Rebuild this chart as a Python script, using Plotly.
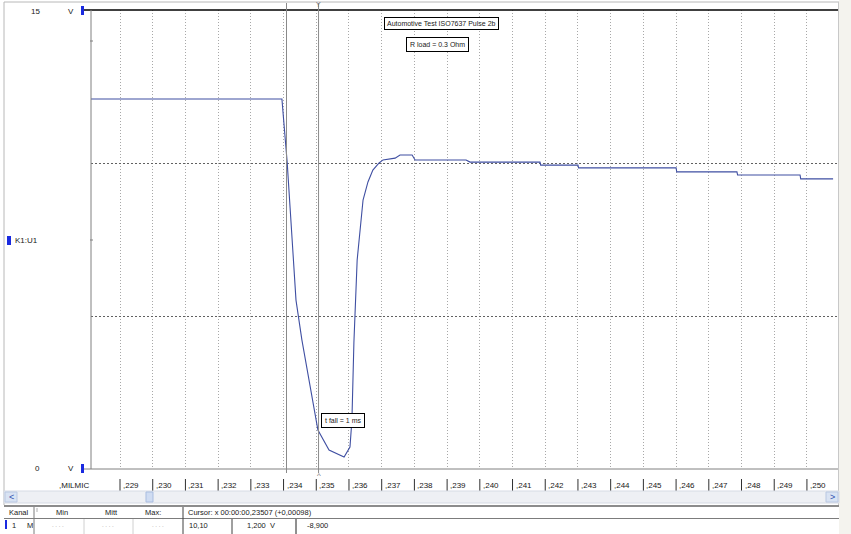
import plotly.graph_objects as go

# ---------------- data ----------------
time_s = [0.22811, 0.23395, 0.23401, 0.23411, 0.23420, 0.23429, 0.23438, 0.23456, 0.23478, 0.23505,
          0.23539, 0.23585, 0.23603, 0.23609, 0.23615, 0.23618, 0.23625, 0.23643, 0.23658, 0.23673,
          0.23692, 0.23704, 0.23741, 0.23756, 0.23793, 0.23802, 0.23958, 0.23970,
          0.24184, 0.24186, 0.24300, 0.24302, 0.24600, 0.24602, 0.24786, 0.24788, 0.24979, 0.24981, 0.25080]
volts = [12.09, 12.09, 11.31, 10.03, 8.53, 6.83, 5.52, 4.22, 2.91, 1.27,
         0.62, 0.39, 0.72, 1.60, 4.12, 4.87, 6.83, 8.79, 9.38, 9.77,
         10.00, 10.10, 10.16, 10.26, 10.26, 10.10, 10.10, 10.03,
         10.03, 9.93, 9.93, 9.84, 9.84, 9.71, 9.71, 9.61, 9.61, 9.48, 9.48]

x_tick_vals = [0.229, 0.230, 0.231, 0.232, 0.233, 0.234, 0.235, 0.236, 0.237, 0.238, 0.239,
               0.240, 0.241, 0.242, 0.243, 0.244, 0.245, 0.246, 0.247, 0.248, 0.249, 0.250]
x_tick_text = [",229", ",230", ",231", ",232", ",233", ",234", ",235", ",236", ",237", ",238", ",239",
               ",240", ",241", ",242", ",243", ",244", ",245", ",246", ",247", ",248", ",249", ",250"]
x_unit_label = ",MILMIC"
y_grid_vals = [5, 10]
y_min_label, y_max_label = "0", "15"
channel_label = "K1:U1"
cursor_times = [0.23409, 0.23507]
title_text = "Automotive Test ISO7637 Pulse 2b"
load_text = "R load = 0.3 Ohm"
fall_text = "t fall = 1 ms"

table_header = ["Kanal", "Min", "Mitt", "Max:", "Cursor: x 00:00:00,23507 (+0,00098)"]
table_row = ["1", "M", ". . . .", ". . . .", ". . . .", "10,10", "1,200  V", "-8,900"]

# ---------------- layout helpers (pixel -> paper) ----------------
W, H = 851, 534
L, R, T, B = 91, 838, 10, 469


def px(x):
    return (x - L) / (R - L)


def py(y):
    return (B - y) / (B - T)


FONT = "Liberation Sans, Arial, sans-serif"
TXT = "#202020"

fig = go.Figure()
fig.add_trace(go.Scatter(x=time_s, y=volts, mode="lines",
                         line=dict(color="#3f4fa2", width=1.1), hoverinfo="skip",
                         showlegend=False))

shapes = []
annotations = []


def pline(x0, y0, x1, y1, color, width=1, dash=None):
    d = dict(type="line", xref="paper", yref="paper", x0=px(x0), x1=px(x1), y0=py(y0), y1=py(y1),
             line=dict(color=color, width=width), layer="above")
    if dash:
        d["line"]["dash"] = dash
    shapes.append(d)


def prect(x0, y0, x1, y1, fill, color=None, width=0):
    shapes.append(dict(type="rect", xref="paper", yref="paper", x0=px(x0), x1=px(x1), y0=py(y1), y1=py(y0),
                       fillcolor=fill, line=dict(color=color or fill, width=width), layer="above"))


def ptext(x, y, text, anchor="left", size=8, color=TXT):
    annotations.append(dict(x=px(x), y=py(y), xref="paper", yref="paper", text=text, showarrow=False,
                            xanchor=anchor, yanchor="middle", font=dict(family=FONT, size=size, color=color)))


# window frame
pline(4, 2, 840, 2, "#b8b8b8")
pline(4, 2, 4, 505, "#b8b8b8")
prect(839, 0, 851, 534, "#f4f3ee")
pline(838.5, 2, 838.5, 505, "#c8c8c8")

# axis frame lines
pline(84, 10, 838, 10, "#000000", 1.5)
pline(84, 469, 838, 469, "#808080", 1)
pline(91, 10, 91, 469, "#808080", 1)
pline(90, 41, 93, 41, "#808080", 1)
pline(90, 240, 93, 240, "#808080", 1)

# cursor lines
for ct in cursor_times:
    shapes.append(dict(type="line", xref="x", yref="paper", x0=ct, x1=ct, y0=py(473), y1=py(3),
                       line=dict(color="#8a8a8a", width=1), layer="above"))
annotations.append(dict(x=cursor_times[1], y=py(5), xref="x", yref="paper", text="Y", showarrow=False,
                        font=dict(family=FONT, size=7, color="#707070"), yanchor="middle"))
annotations.append(dict(x=cursor_times[1], y=py(475), xref="x", yref="paper", text="^", showarrow=False,
                        font=dict(family=FONT, size=8, color="#707070"), yanchor="middle"))

# x tick bars and labels
for tv, tt in zip(x_tick_vals, x_tick_text):
    shapes.append(dict(type="line", xref="x", yref="paper", x0=tv, x1=tv, y0=py(479), y1=py(491),
                       line=dict(color="#303030", width=1), layer="above"))
    annotations.append(dict(x=tv, y=py(485), xref="x", yref="paper", text=tt, showarrow=False,
                            xanchor="left", xshift=1, yanchor="middle",
                            font=dict(family=FONT, size=8, color=TXT)))
ptext(57, 485, x_unit_label)

# y labels and channel markers
ptext(42, 11, y_max_label, anchor="right")
ptext(66, 11, "V")
prect(81, 6, 84, 15, "#1a2ae0")
ptext(42, 468, y_min_label, anchor="right")
ptext(66, 468, "V")
prect(81, 464, 84, 473, "#1a2ae0")
prect(7, 236, 11, 245, "#1a2ae0")
ptext(13, 240, channel_label)

# scrollbar
prect(4, 491, 839, 503, "#eef0f4", "#d6dbe4", 1)
prect(5, 492, 17, 502, "#d9e3f3", "#b9c8e2", 1)
ptext(11, 497, "<", anchor="center", size=9, color="#3050b0")
prect(826, 492, 838, 502, "#d9e3f3", "#b9c8e2", 1)
ptext(832, 497, ">", anchor="center", size=9, color="#3050b0")
prect(146, 492, 153, 502, "#cfdcf2", "#a9bde0", 1)

# table
pline(4, 506, 839, 506, "#8c8c8c", 2)
pline(4, 518.5, 839, 518.5, "#7c7c7c", 1)
pline(34, 507, 34, 534, "#7c7c7c", 1)
pline(37, 508, 37, 512, "#b0b0b0", 1)
pline(84, 519, 84, 534, "#d0d0d0", 1)
pline(133, 519, 133, 534, "#d0d0d0", 1)
pline(183, 507, 183, 534, "#404040", 1)
pline(232, 519, 232, 534, "#404040", 1)
pline(296, 519, 296, 534, "#202020", 1)
ptext(7, 512, table_header[0], size=7.5)
ptext(62, 512, table_header[1], anchor="center", size=7.5)
ptext(111, 512, table_header[2], anchor="center", size=7.5)
ptext(163, 512, table_header[3], anchor="right", size=7.5)
ptext(186, 512, table_header[4], size=7.5)
prect(5, 520, 7, 529, "#1a2ae0")
ptext(10, 525, table_row[0], size=7.5)
ptext(25, 525, table_row[1], size=7.5)
ptext(58, 525, table_row[2], anchor="center", size=6, color="#909090")
ptext(108, 525, table_row[3], anchor="center", size=6, color="#909090")
ptext(158, 525, table_row[4], anchor="center", size=6, color="#909090")
ptext(210, 525, table_row[5], anchor="right", size=7.5)
ptext(245, 525, table_row[6], size=7.5)
ptext(305, 525, table_row[7], size=7.5)

# boxed annotations
annotations.append(dict(x=px(441.5), y=py(23), xref="paper", yref="paper", text=title_text, showarrow=False,
                        xanchor="center", yanchor="middle", bgcolor="white", bordercolor="#000000",
                        borderwidth=1, borderpad=2,
                        font=dict(family=FONT, size=7, color=TXT)))
annotations.append(dict(x=px(437.5), y=py(44), xref="paper", yref="paper", text=load_text, showarrow=False,
                        xanchor="center", yanchor="middle", bgcolor="white", bordercolor="#000000",
                        borderwidth=1, borderpad=3,
                        font=dict(family=FONT, size=7, color=TXT)))
annotations.append(dict(x=px(342.5), y=py(420), xref="paper", yref="paper", text=fall_text, showarrow=False,
                        xanchor="center", yanchor="middle", bgcolor="white", bordercolor="#000000",
                        borderwidth=1, borderpad=3,
                        font=dict(family=FONT, size=7, color=TXT)))

fig.update_layout(
    width=W, height=H,
    margin=dict(l=L, r=W - R, t=T, b=H - B, pad=0),
    paper_bgcolor="white", plot_bgcolor="white",
    shapes=shapes, annotations=annotations,
    showlegend=False,
    xaxis=dict(range=[0.228113, 0.250950], tickvals=x_tick_vals, showticklabels=False, ticks="",
               showgrid=True, gridcolor="#a8a8a8", griddash="1px,2px", gridwidth=1,
               zeroline=False, showline=False, fixedrange=True),
    yaxis=dict(range=[0, 15], tickvals=y_grid_vals, showticklabels=False, ticks="",
               showgrid=True, gridcolor="#606060", griddash="2px,2px", gridwidth=1,
               zeroline=False, showline=False, fixedrange=True),
)

fig.write_html("out.html", config={"displayModeBar": False},
               post_script="document.body.style.margin='0px';document.body.style.overflow='hidden';")
